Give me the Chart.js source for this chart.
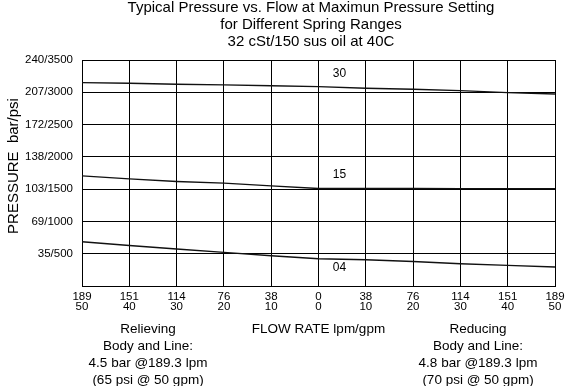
<!DOCTYPE html>
<html>
<head>
<meta charset="utf-8">
<script src="https://cdn.jsdelivr.net/npm/chart.js@4.4.1/dist/chart.umd.min.js"></script>
<style>
  html, body { margin: 0; padding: 0; background: #fff; }
  #wrap { width: 565px; height: 386px; }
</style>
</head>
<body>
<div id="wrap"><canvas id="chart" width="565" height="386"></canvas></div>
<script>
// Flow positions (gpm, relieving side shown as negative) and their tick labels
const flowGpm = [-50, -40, -30, -20, -10, 0, 10, 20, 30, 40, 50];
const lpmLabels = ['189', '151', '114', '76', '38', '0', '38', '76', '114', '151', '189'];
const gpmLabels = ['50', '40', '30', '20', '10', '0', '10', '20', '30', '40', '50'];

// Pressure axis labels (bar/psi), one per 500 psi step
const psiTicks = [0, 500, 1000, 1500, 2000, 2500, 3000, 3500];
const barLabels = ['', '35', '69', '103', '138', '172', '207', '240'];

// Spring range curves, psi read at each flow position
const spring30 = [3149, 3139, 3125, 3115, 3102, 3087, 3062, 3046, 3025, 2994, 2974];
const spring15 = [1706, 1659, 1618, 1593, 1551, 1510, 1510, 1509, 1508, 1508, 1507];
const spring04 = [685, 628, 572, 520, 469, 422, 407, 380, 345, 319, 294];
const springNames = ['30', '15', '04'];

const titleLines = [
    'Typical Pressure vs. Flow at Maximun Pressure Setting',
    'for Different Spring Ranges',
    '32 cSt/150 sus oil at 40C'
];
const relievingNote = ['Relieving', 'Body and Line:', '4.5 bar @189.3 lpm', '(65 psi @ 50 gpm)'];
const reducingNote = ['Reducing', 'Body and Line:', '4.8 bar @189.3 lpm', '(70 psi @ 50 gpm)'];

const FONT = '"Liberation Sans", Arial, Helvetica, sans-serif';

function toPoints(values) {
    return values.map((v, i) => ({ x: flowGpm[i], y: v }));
}

function makeDataset(name, values) {
    return {
        label: name,
        data: toPoints(values),
        borderColor: '#111',
        borderWidth: 1.4,
        pointRadius: 0,
        tension: 0,
        fill: false
    };
}

// Draws the titles, axis captions and spring labels
const textPlugin = {
    id: 'chartText',
    afterDraw(chart) {
        const ctx = chart.ctx;
        const xs = chart.scales.x;
        const ys = chart.scales.y;
        ctx.save();
        ctx.fillStyle = '#000';
        ctx.textAlign = 'center';
        ctx.textBaseline = 'alphabetic';

        // title
        ctx.font = '15px ' + FONT;
        titleLines.forEach((t, i) => ctx.fillText(t, 311, 12 + i * 17));

        // y title
        ctx.save();
        ctx.translate(18, 166);
        ctx.rotate(-Math.PI / 2);
        ctx.font = '15px ' + FONT;
        ctx.fillText('PRESSURE  bar/psi', 0, 0);
        ctx.restore();

        // x title and side notes
        ctx.font = '13.5px ' + FONT;
        ctx.fillText('FLOW RATE lpm/gpm', xs.getPixelForValue(0), 333);
        relievingNote.forEach((t, i) => ctx.fillText(t, 148, 333 + i * 17));
        reducingNote.forEach((t, i) => ctx.fillText(t, 478, 333 + i * 17));

        // spring labels near zero flow
        ctx.font = '12px ' + FONT;
        const lx = xs.getPixelForValue(0) + 21;
        const offsets = [-10, -10, 12];
        [spring30, spring15, spring04].forEach((vals, i) => {
            const py = ys.getPixelForValue(vals[5]);
            ctx.fillText(springNames[i], lx, py + offsets[i]);
        });
        ctx.restore();
    }
};

const ctx = document.getElementById('chart').getContext('2d');
const chart = new Chart(ctx, {
    type: 'line',
    data: {
        datasets: [
            makeDataset('30', spring30),
            makeDataset('15', spring15),
            makeDataset('04', spring04)
        ]
    },
    options: {
        responsive: false,
        animation: false,
        layout: { padding: { top: 60, right: 10, left: 0, bottom: 0 } },
        plugins: {
            legend: { display: false },
            tooltip: { enabled: false },
            title: { display: false }
        },
        scales: {
            x: {
                type: 'linear',
                min: -50,
                max: 50,
                afterFit(scale) {
                    scale.height = 100;
                    scale.paddingLeft = 0;
                    scale.paddingRight = 0;
                },
                afterBuildTicks(scale) {
                    scale.ticks = flowGpm.map(v => ({ value: v }));
                },
                grid: { color: '#000', lineWidth: 1, drawTicks: false },
                border: { color: '#000', width: 1 },
                ticks: {
                    color: '#000',
                    padding: 6,
                    maxRotation: 0,
                    autoSkip: false,
                    font: { family: FONT, size: 11.5, lineHeight: 0.85 },
                    callback(value) {
                        const i = flowGpm.indexOf(value);
                        return i < 0 ? '' : [lpmLabels[i], gpmLabels[i]];
                    }
                }
            },
            y: {
                type: 'linear',
                min: 0,
                max: 3500,
                afterFit(scale) {
                    scale.width = 82;
                    scale.paddingTop = 0;
                    scale.paddingBottom = 0;
                },
                afterBuildTicks(scale) {
                    scale.ticks = psiTicks.map(v => ({ value: v }));
                },
                grid: { color: '#000', lineWidth: 1, drawTicks: false },
                border: { color: '#000', width: 1 },
                ticks: {
                    color: '#000',
                    padding: 9,
                    autoSkip: false,
                    font: { family: FONT, size: 11.5 },
                    callback(value) {
                        const i = psiTicks.indexOf(value);
                        return (i <= 0) ? '' : barLabels[i] + '/' + value;
                    }
                }
            }
        }
    },
    plugins: [textPlugin]
});
</script>
</body>
</html>
